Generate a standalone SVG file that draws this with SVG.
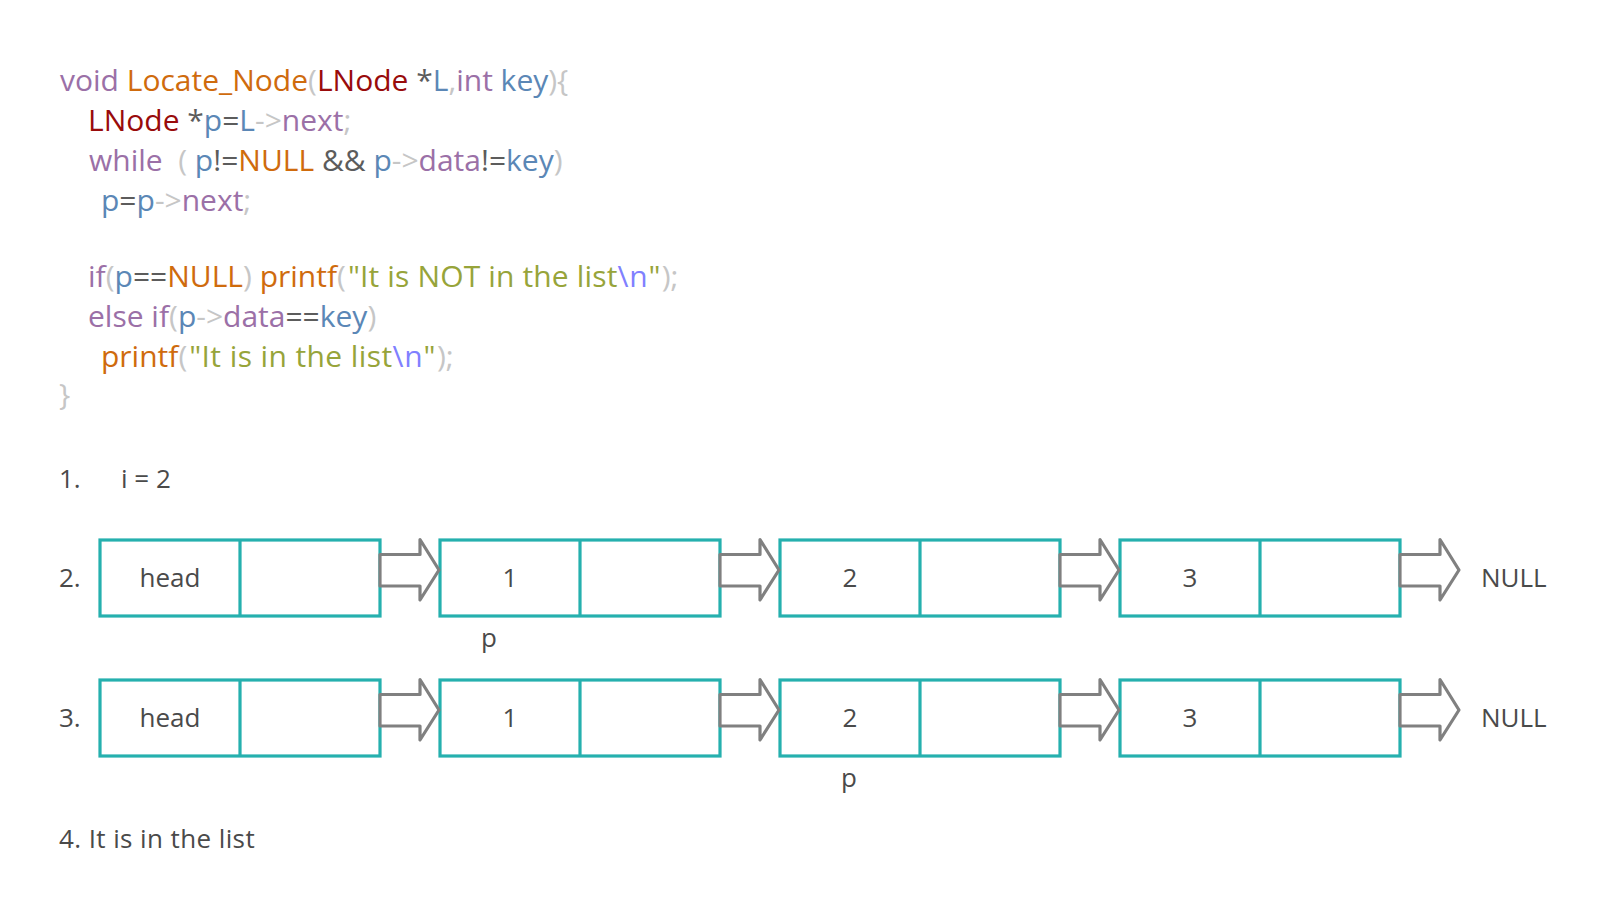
<svg xmlns="http://www.w3.org/2000/svg" width="1608" height="920" viewBox="0 0 1608 920">
<style>
text{font-family:"Open Sans","Noto Sans","DejaVu Sans",sans-serif;}
.code{font-size:30px;white-space:pre;}
.kw{fill:#9b70a7;}
.fn{fill:#cf6b0d;}
.ty{fill:#990b0b;}
.id{fill:#5b87b6;}
.pu{fill:#c6c6c6;}
.op{fill:#5c5c5c;}
.st{fill:#97a43a;letter-spacing:0.4px;}
.st2{fill:#97a43a;letter-spacing:0.15px;}
.es{fill:#8080ff;letter-spacing:0.8px;}
.lbl{font-size:26px;fill:#4a4a4a;}
.ctr{text-anchor:middle;}
.box{fill:#fff;stroke:#25b0ae;stroke-width:3.2;}
.arr{fill:#fff;stroke:#808080;stroke-width:3.2;stroke-linejoin:round;}
</style>
<rect width="1608" height="920" fill="#fff"/>
<g id="code">
<text class="code" x="60" y="91" xml:space="preserve"><tspan class="kw">void</tspan> <tspan class="fn">Locate_Node</tspan><tspan class="pu">(</tspan><tspan class="ty">LNode</tspan><tspan class="op"> *</tspan><tspan class="id">L</tspan><tspan class="pu">,</tspan><tspan class="kw">int</tspan><tspan class="id"> key</tspan><tspan class="pu">){</tspan></text>
<text class="code" x="88" y="131" xml:space="preserve"><tspan class="ty">LNode</tspan><tspan class="op"> *</tspan><tspan class="id">p</tspan><tspan class="op">=</tspan><tspan class="id">L</tspan><tspan class="pu">-&gt;</tspan><tspan class="kw">next</tspan><tspan class="pu">;</tspan></text>
<text class="code" x="89" y="171" xml:space="preserve"><tspan class="kw">while</tspan><tspan class="pu">  (</tspan><tspan class="id"> p</tspan><tspan class="op">!=</tspan><tspan class="fn">NULL</tspan><tspan class="op"> &amp;&amp;</tspan><tspan class="id"> p</tspan><tspan class="pu">-&gt;</tspan><tspan class="kw">data</tspan><tspan class="op">!=</tspan><tspan class="id">key</tspan><tspan class="pu">)</tspan></text>
<text class="code" x="101" y="211" xml:space="preserve"><tspan class="id">p</tspan><tspan class="op">=</tspan><tspan class="id">p</tspan><tspan class="pu">-&gt;</tspan><tspan class="kw">next</tspan><tspan class="pu">;</tspan></text>
<text class="code" x="88" y="287" xml:space="preserve"><tspan class="kw">if</tspan><tspan class="pu">(</tspan><tspan class="id">p</tspan><tspan class="op">==</tspan><tspan class="fn">NULL</tspan><tspan class="pu">)</tspan><tspan class="fn"> printf</tspan><tspan class="pu">(</tspan><tspan class="st2" dx="2">"It is NOT in the list</tspan><tspan class="es">\n</tspan><tspan class="st2">"</tspan><tspan class="pu" dx="1">);</tspan></text>
<text class="code" x="88" y="327" xml:space="preserve"><tspan class="kw">else if</tspan><tspan class="pu">(</tspan><tspan class="id">p</tspan><tspan class="pu">-&gt;</tspan><tspan class="kw">data</tspan><tspan class="op">==</tspan><tspan class="id">key</tspan><tspan class="pu">)</tspan></text>
<text class="code" x="101" y="367" xml:space="preserve"><tspan class="fn">printf</tspan><tspan class="pu">(</tspan><tspan class="st" dx="2">"It is in the list</tspan><tspan class="es">\n</tspan><tspan class="st">"</tspan><tspan class="pu" dx="1">);</tspan></text>
<text class="code pu" x="59" y="405">}</text>
</g>
<g id="steps">
<text class="lbl" x="59" y="488">1.</text>
<text class="lbl" x="121" y="488">i = 2</text>
<text class="lbl" x="59" y="587">2.</text>
<text class="lbl" x="59" y="727">3.</text>
<text class="lbl" x="59" y="848" style="letter-spacing:0.4px">4. It is in the list</text>
</g>
<g id="row2-head"><rect class="box" x="100" y="540" width="280" height="76"/><line class="box" x1="240" y1="540" x2="240" y2="616"/><text class="lbl ctr" x="170" y="587">head</text></g>
<g id="row2-n1"><rect class="box" x="440" y="540" width="280" height="76"/><line class="box" x1="580" y1="540" x2="580" y2="616"/><text class="lbl ctr" x="510" y="587">1</text></g>
<g id="row2-n2"><rect class="box" x="780" y="540" width="280" height="76"/><line class="box" x1="920" y1="540" x2="920" y2="616"/><text class="lbl ctr" x="850" y="587">2</text></g>
<g id="row2-n3"><rect class="box" x="1120" y="540" width="280" height="76"/><line class="box" x1="1260" y1="540" x2="1260" y2="616"/><text class="lbl ctr" x="1190" y="587">3</text></g>
<g id="row2-null"><text class="lbl" x="1481" y="587">NULL</text></g>
<g id="row2-p"><text class="lbl ctr" x="489" y="647">p</text></g>
<g id="row3-head"><rect class="box" x="100" y="680" width="280" height="76"/><line class="box" x1="240" y1="680" x2="240" y2="756"/><text class="lbl ctr" x="170" y="727">head</text></g>
<g id="row3-n1"><rect class="box" x="440" y="680" width="280" height="76"/><line class="box" x1="580" y1="680" x2="580" y2="756"/><text class="lbl ctr" x="510" y="727">1</text></g>
<g id="row3-n2"><rect class="box" x="780" y="680" width="280" height="76"/><line class="box" x1="920" y1="680" x2="920" y2="756"/><text class="lbl ctr" x="850" y="727">2</text></g>
<g id="row3-n3"><rect class="box" x="1120" y="680" width="280" height="76"/><line class="box" x1="1260" y1="680" x2="1260" y2="756"/><text class="lbl ctr" x="1190" y="727">3</text></g>
<g id="row3-null"><text class="lbl" x="1481" y="727">NULL</text></g>
<g id="row3-p"><text class="lbl ctr" x="849" y="787">p</text></g>
<defs>
<polygon id="ar" points="0,14.5 40,14.5 40,-0.5 59,30 40,60 40,46 0,46"/>
</defs>
<g id="connectors">
<use href="#ar" class="arr" x="380" y="540"/>
<use href="#ar" class="arr" x="720" y="540"/>
<use href="#ar" class="arr" x="1060" y="540"/>
<use href="#ar" class="arr" x="1400" y="540"/>
<use href="#ar" class="arr" x="380" y="680"/>
<use href="#ar" class="arr" x="720" y="680"/>
<use href="#ar" class="arr" x="1060" y="680"/>
<use href="#ar" class="arr" x="1400" y="680"/>
</g>
</svg>
